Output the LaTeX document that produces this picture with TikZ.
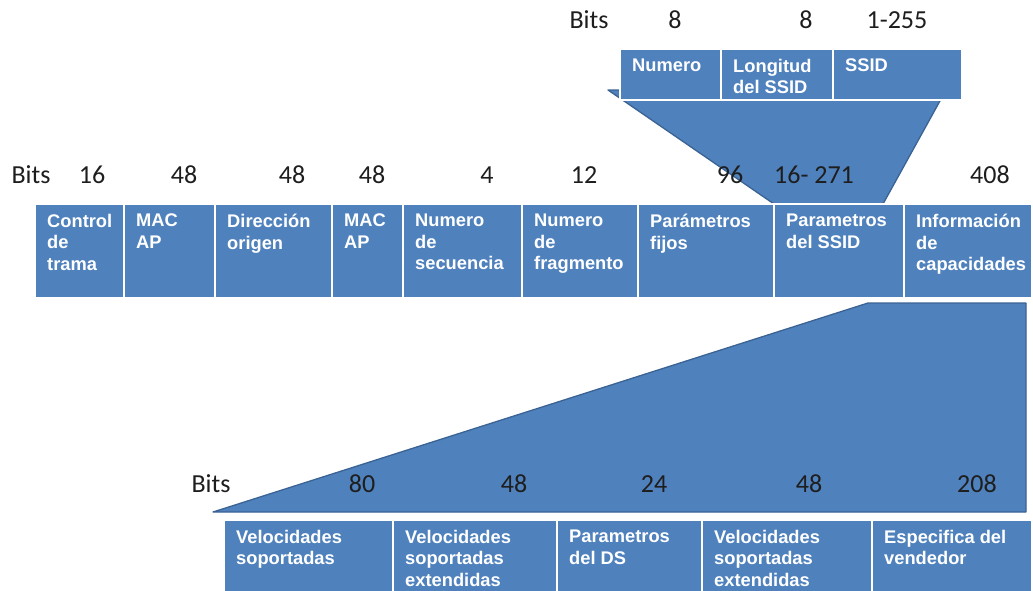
\documentclass[tikz,border=0pt]{standalone}
\usepackage{fontspec}
\setmainfont{Liberation Sans}
\newfontfamily\numfont{Carlito}
\definecolor{fieldblue}{HTML}{4F81BD}
\definecolor{funneledge}{HTML}{3A6394}
\definecolor{bitgray}{HTML}{1E1E1E}
\tikzset{
  field/.style={draw=white, line width=2.4pt, fill=fieldblue, anchor=north west,
                inner sep=0pt, outer sep=0pt},
  fieldtext/.style={anchor=north west, inner sep=0pt, align=left, text=white,
                    font=\bfseries\fontsize{18.3}{21.5}\selectfont},
  bitlabel/.style={anchor=base, inner sep=0pt, text=bitgray,
                   font=\numfont\fontsize{26}{26}\selectfont},
  funnel/.style={fill=fieldblue, draw=funneledge, line width=1.3pt, line join=round}
}
% \fieldbox{name}{left}{right}{top}{bottom}{label}
\newcommand\fieldbox[6]{%
  \node[field, minimum width={(#3-#2)*1pt}, minimum height={(#5-#4)*1pt}] (#1) at (#2,#4) {};
  \node[fieldtext] (#1-t) at ([shift={(12pt,-10pt)}]#1.north west) {#6};
}
\begin{document}
\begin{tikzpicture}[x=1pt, y=-1pt]
\useasboundingbox[fill=white] (0,0) rectangle (1033,590);

% expansion funnels, drawn behind the fields
\draw[funnel] (608,90) -- (946,90) -- (883,204) -- (774,204) -- cycle;
\draw[funnel] (213,512) -- (1026,512) -- (1026,303) -- (868,303) -- cycle;

% SSID parameter element
\fieldbox{num}{620}{721}{49}{100}{Numero}
\fieldbox{len}{721}{833}{49}{100}{Longitud\\del SSID}
\fieldbox{ssid}{833}{962}{49}{100}{SSID}

\node[bitlabel] (tb0) at (589,28) {Bits};
\node[bitlabel] (tb1) at (675,28) {8};
\node[bitlabel] (tb2) at (806,28) {8};
\node[bitlabel] (tb3) at (897,28) {1-255};

% beacon frame
\fieldbox{ctl}{35}{124}{204}{298}{Control\\de\\trama}
\fieldbox{mac1}{124}{215}{204}{298}{MAC\\AP}
\fieldbox{src}{215}{332}{204}{298}{Dirección\\origen}
\fieldbox{mac2}{332}{403}{204}{298}{MAC\\AP}
\fieldbox{seq}{403}{522}{204}{298}{Numero\\de\\secuencia}
\fieldbox{frag}{522}{638}{204}{298}{Numero\\de\\fragmento}
\fieldbox{fix}{638}{774}{204}{298}{Parámetros\\fijos}
\fieldbox{pssid}{774}{904}{204}{298}{Parametros\\del SSID}
\fieldbox{cap}{904}{1032}{204}{298}{Información\\de\\capacidades}

\node[bitlabel] (mb0) at (31,183) {Bits};
\node[bitlabel] (mb1) at (92,183) {16};
\node[bitlabel] (mb2) at (184,183) {48};
\node[bitlabel] (mb3) at (292,183) {48};
\node[bitlabel] (mb4) at (372,183) {48};
\node[bitlabel] (mb5) at (487,183) {4};
\node[bitlabel] (mb6) at (584,183) {12};
\node[bitlabel] (mb7) at (730,183) {96};
\node[bitlabel] (mb8) at (814,183) {16- 271};
\node[bitlabel] (mb9) at (990,183) {408};

% capability information element
\fieldbox{rates}{224}{393}{520}{600}{Velocidades\\soportadas}
\fieldbox{ext1}{393}{557}{520}{600}{Velocidades\\soportadas\\extendidas}
\fieldbox{ds}{557}{702}{520}{600}{Parametros\\del DS}
\fieldbox{ext2}{702}{872}{520}{600}{Velocidades\\soportadas\\extendidas}
\fieldbox{vend}{872}{1032}{520}{600}{Especifica del\\vendedor}

\node[bitlabel] (bb0) at (211,492) {Bits};
\node[bitlabel] (bb1) at (362,492) {80};
\node[bitlabel] (bb2) at (514,492) {48};
\node[bitlabel] (bb3) at (654,492) {24};
\node[bitlabel] (bb4) at (809,492) {48};
\node[bitlabel] (bb5) at (977,492) {208};
\end{tikzpicture}
\end{document}
